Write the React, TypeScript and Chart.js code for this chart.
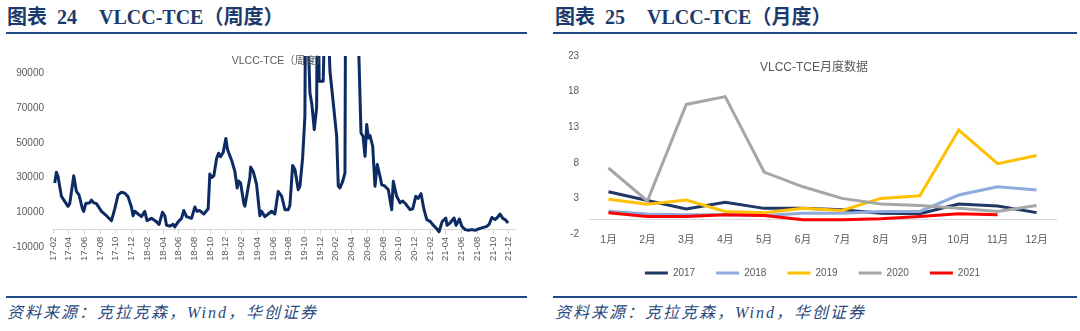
import React, { useEffect, useRef } from 'react';
import { Chart, registerables } from 'chart.js';

Chart.register(...registerables);

// ---------- Weekly VLCC-TCE (left chart) ----------
// position in months since 2017-01 (17-02 = 1)
const weeklyMonthPos = [
  1.22, 1.43, 1.64, 1.85, 2.07, 2.49, 2.91, 3.13, 3.64, 3.98, 4.31, 4.75, 4.91, 5.17, 5.68, 5.89, 6.18, 6.53,
  7.17, 7.8, 8.44, 8.86, 9.28, 9.71, 10.13, 10.55, 10.98, 11.19, 11.41, 11.83, 12.26, 12.68, 12.97, 13.54,
  14.17, 14.5, 14.94, 15.23, 15.45, 15.87, 16.29, 16.5, 16.92, 17.36, 17.65, 17.99, 18.63, 19.05, 19.34,
  19.69, 20.2, 20.75, 20.96, 21.18, 21.47, 21.82, 22.07, 22.32, 22.66, 23.0, 23.22, 23.73, 24.15, 24.44,
  24.62, 24.87, 25.29, 25.42, 26.06, 26.15, 26.48, 26.91, 27.33, 27.54, 27.96, 28.39, 28.82, 29.24, 29.66,
  30.1, 30.52, 30.94, 31.15, 31.5, 31.79, 32.21, 32.43, 32.77, 33.06, 33.28, 33.48, 33.7, 33.95, 34.25,
  34.55, 34.68, 34.88, 35.39, 35.61, 36.03, 36.25, 36.67, 37.1, 37.31, 37.52, 37.87, 38.16, 38.3, 38.7,
  39.1, 39.5, 39.81, 40.2, 40.46, 40.71, 40.93, 41.14, 41.35, 41.69, 41.98, 42.27, 42.62, 42.83, 43.25,
  43.68, 44.11, 44.31, 44.74, 45.17, 45.51, 45.93, 46.44, 46.78, 47.17, 47.46, 47.84, 48.22, 48.57, 48.99,
  49.33, 49.75, 50.13, 50.52, 50.99, 51.15, 51.53, 52.04, 52.3, 52.72, 53.03, 53.45, 53.87, 54.3, 54.72,
  55.14, 55.57, 56.21, 56.5, 56.85, 57.27, 57.56, 57.9, 58.25, 58.54, 58.92,
];
const weeklyTce = [
  26900, 33000, 30700, 25000, 19200, 16300, 13400, 15000, 31000, 22000, 20000, 12000, 10500, 15000, 15500, 17000, 15500, 15000,
  10500, 8000, 5200, 12000, 20000, 21500, 21000, 19000, 13000, 8000, 10600, 9000, 7500, 10500, 5200, 6500,
  4500, 3000, 10000, 8000, 2500, 2000, 3000, 1500, 4500, 6500, 11000, 7500, 6500, 13000, 10500,
  11000, 9000, 12000, 32000, 30000, 31000, 41000, 44000, 42000, 44500, 52500, 46000, 40000, 33500, 24000,
  28000, 27000, 15000, 13500, 30000, 36000, 33500, 26000, 8000, 10600, 7500, 9000, 10600, 9000, 22000,
  19300, 11500, 11500, 14000, 36900, 34600, 23000, 25000, 41300, 65300, 250000, 110000, 78800, 72000, 57600,
  70100, 160000, 85500, 85500, 130000, 120000, 91200, 73000, 53800, 25000, 24000, 27800, 32700, 220000, 250000,
  180000, 140000, 120000, 55700, 53800, 42200, 60500, 52800, 54200, 48000, 25000, 37500, 30700, 25900, 25000,
  23000, 11500, 27800, 19200, 15400, 16500, 14600, 11500, 12000, 19200, 18000, 20700, 11500, 5800, 4800,
  2900, 900, -1200, 4500, 6700, 2500, 3800, 6700, 2500, 6100, 2000, 0, -400, 0, -400,
  400, 1000, 1900, 3000, 7000, 5800, 7000, 9000, 6500, 5800, 3800,
];
const weeklyTickPos = [1, 3, 5, 7, 9, 11, 13, 15, 17, 19, 21, 23, 25, 27, 29, 31, 33, 35, 37, 39, 41, 43, 45, 47, 49, 51, 53, 55, 57, 59];
const weeklyTickLabels = [
  '17-02', '17-04', '17-06', '17-08', '17-10', '17-12',
  '18-02', '18-04', '18-06', '18-08', '18-10', '18-12',
  '19-02', '19-04', '19-06', '19-08', '19-10', '19-12',
  '20-02', '20-04', '20-06', '20-08', '20-10', '20-12',
  '21-02', '21-04', '21-06', '21-08', '21-10', '21-12',
];
const weeklyYTicks = [-10000, 10000, 30000, 50000, 70000, 90000];

// ---------- Monthly VLCC-TCE (right chart) ----------
const months = ['1月', '2月', '3月', '4月', '5月', '6月', '7月', '8月', '9月', '10月', '11月', '12月'];
const years = ['2017', '2018', '2019', '2020', '2021'];
const tce2017 = [3.94, 2.7, 1.53, 2.45, 1.6, 1.6, 1.4, 0.93, 0.85, 2.2, 1.94, 1.0];
const tce2018 = [1.2, 0.8, 0.7, 0.7, 0.6, 0.9, 0.93, 1.16, 1.16, 3.47, 4.63, 4.17];
const tce2019 = [2.87, 2.17, 2.78, 1.16, 1.0, 1.6, 1.3, 3.0, 3.38, 12.6, 7.87, 9.03];
const tce2020 = [7.27, 2.64, 16.2, 17.3, 6.7, 4.63, 3.0, 2.2, 2.0, 1.6, 1.16, 2.0];
const tce2021 = [1.0, 0.46, 0.46, 0.7, 0.6, 0.0, 0.0, 0.14, 0.46, 0.83, 0.7, null];
const yearColors = ['#1F3864', '#8FAADC', '#FFC000', '#A6A6A6', '#FF0000'];

const AXIS_TEXT = '#595959';
const NAVY = '#0D2B63';
const RULE = '#1F4A86';
const SANS = '"Liberation Sans", Arial, "Noto Sans CJK SC", sans-serif';

function WeeklyChart() {
  const ref = useRef<HTMLCanvasElement>(null);
  useEffect(() => {
    if (!ref.current) return;
    const chart = new Chart(ref.current, {
      type: 'line',
      data: {
        datasets: [
          {
            data: weeklyMonthPos.map((x, i) => ({ x, y: weeklyTce[i] })),
            borderColor: NAVY,
            borderWidth: 3,
            pointRadius: 0,
            tension: 0,
            fill: false,
            borderJoinStyle: 'round',
          },
        ],
      },
      options: {
        animation: false,
        responsive: false,
        maintainAspectRatio: false,
        layout: { padding: { left: 0, right: 15, top: 16, bottom: 33 } },
        plugins: { legend: { display: false }, tooltip: { enabled: false } },
        scales: {
          x: {
            type: 'linear',
            position: { y: 0 } as any,
            min: 1,
            max: 59.8,
            afterBuildTicks: (s: any) => {
              s.ticks = weeklyTickPos.map((v) => ({ value: v }));
            },
            ticks: {
              autoSkip: false,
              maxRotation: 90,
              minRotation: 90,
              padding: 3,
              color: AXIS_TEXT,
              font: { family: SANS, size: 9.5 },
              callback: (v: any) => {
                const i = weeklyTickPos.indexOf(Number(v));
                return i >= 0 ? weeklyTickLabels[i] : '';
              },
            },
            grid: { display: true, drawOnChartArea: false, drawTicks: true, tickLength: 4, color: '#D9D9D9' },
            border: { display: true, color: '#D9D9D9', width: 1 },
          },
          y: {
            type: 'linear',
            min: -10000,
            max: 100000,
            afterBuildTicks: (s: any) => {
              s.ticks = weeklyYTicks.map((v) => ({ value: v }));
            },
            afterFit: (s: any) => {
              s.width = 53;
            },
            ticks: {
              padding: 9,
              color: AXIS_TEXT,
              font: { family: SANS, size: 10 },
              callback: (v: any) => String(v),
            },
            grid: { display: false, drawTicks: false },
            border: { display: false },
          },
        },
      },
    });
    return () => chart.destroy();
  }, []);
  return (
    <canvas
      ref={ref}
      width={530}
      height={240}
      style={{ position: 'absolute', left: 0, top: 40, width: 530, height: 240 }}
    />
  );
}

function MonthlyChart() {
  const ref = useRef<HTMLCanvasElement>(null);
  useEffect(() => {
    if (!ref.current) return;
    const series = [tce2017, tce2018, tce2019, tce2020, tce2021];
    const datasets = years
      .map((y, i) => ({
        label: y,
        data: series[i],
        borderColor: yearColors[i],
        backgroundColor: yearColors[i],
        borderWidth: 3,
        pointRadius: 0,
        tension: 0,
        fill: false,
        spanGaps: false,
      }))
      .reverse();
    const chart = new Chart(ref.current, {
      type: 'line',
      data: { labels: months, datasets },
      options: {
        animation: false,
        responsive: false,
        maintainAspectRatio: false,
        layout: { padding: { left: 29, right: 24, top: 14, bottom: 2 } },
        plugins: {
          tooltip: { enabled: false },
          legend: {
            position: 'bottom',
            reverse: true,
            labels: {
              boxWidth: 23,
              boxHeight: 3,
              padding: 21,
              color: AXIS_TEXT,
              font: { family: SANS, size: 10 },
              generateLabels: (c: any) =>
                (Chart.defaults.plugins.legend.labels.generateLabels as any)(c).map((l: any) => ({
                  ...l,
                  lineWidth: 0,
                })),
            },
          },
        },
        scales: {
          x: {
            type: 'category',
            offset: true,
            afterFit: (s: any) => {
              s.height = 13;
            },
            ticks: { padding: 0, color: AXIS_TEXT, font: { family: SANS, size: 10.5 } },
            grid: { display: false, drawTicks: false },
            border: { display: false },
          },
          x2: {
            axis: 'x',
            type: 'category',
            position: { y: 0 } as any,
            offset: true,
            ticks: { display: false },
            grid: { display: false },
            border: { display: true, color: '#D9D9D9', width: 1 },
          } as any,
          y: {
            type: 'linear',
            min: -2,
            max: 23,
            afterFit: (s: any) => {
              s.width = 20;
            },
            ticks: { stepSize: 5, padding: 10, color: AXIS_TEXT, font: { family: SANS, size: 10 } },
            grid: { display: false, drawTicks: false },
            border: { display: false },
          },
        },
      },
    });
    return () => chart.destroy();
  }, []);
  return (
    <canvas
      ref={ref}
      width={540}
      height={250}
      style={{ position: 'absolute', left: 540, top: 40, width: 540, height: 250 }}
    />
  );
}

const headerStyle: React.CSSProperties = {
  position: 'absolute',
  top: 6,
  height: 22,
  lineHeight: '22px',
  fontFamily: '"Liberation Serif", "Times New Roman", "Noto Sans CJK SC", serif',
  fontWeight: 'bold',
  fontSize: 20,
  color: '#1B3A6B',
  whiteSpace: 'nowrap',
};

const sourceStyle: React.CSSProperties = {
  position: 'absolute',
  top: 303,
  height: 20,
  lineHeight: '20px',
  fontFamily: '"Liberation Serif", "Noto Sans CJK SC", serif',
  fontStyle: 'italic',
  fontSize: 16,
  letterSpacing: 2,
  color: '#2B4A80',
  whiteSpace: 'nowrap',
};

function Header({ left, num, text }: { left: number; num: string; text: string }) {
  return (
    <div style={{ ...headerStyle, left }}>
      <span>图表</span>
      <span style={{ marginLeft: 10 }}>{num}</span>
      <span style={{ marginLeft: 22 }}>{text}</span>
    </div>
  );
}

export default function App() {
  return (
    <div style={{ position: 'absolute', left: 0, top: 0, width: 1080, height: 331, background: '#fff', overflow: 'hidden' }}>
      <Header left={7} num="24" text="VLCC-TCE（周度）" />
      <Header left={555} num="25" text="VLCC-TCE（月度）" />
      <div style={{ position: 'absolute', left: 6, top: 32, width: 521, height: 2, background: RULE }} />
      <div style={{ position: 'absolute', left: 553, top: 32, width: 524, height: 2, background: RULE }} />

      <WeeklyChart />
      <MonthlyChart />

      <div
        style={{
          position: 'absolute',
          left: 229,
          top: 52,
          width: 100,
          textAlign: 'center',
          fontFamily: SANS,
          fontSize: 10.5,
          color: AXIS_TEXT,
          whiteSpace: 'nowrap',
        }}
      >
        VLCC-TCE（周度）
      </div>
      <div
        style={{
          position: 'absolute',
          left: 754,
          top: 57,
          width: 120,
          textAlign: 'center',
          fontFamily: SANS,
          fontSize: 12,
          color: AXIS_TEXT,
          whiteSpace: 'nowrap',
        }}
      >
        VLCC-TCE月度数据
      </div>

      <div style={{ position: 'absolute', left: 6, top: 296, width: 521, height: 2, background: RULE }} />
      <div style={{ position: 'absolute', left: 553, top: 296, width: 524, height: 2, background: RULE }} />
      <div style={{ ...sourceStyle, left: 7 }}>资料来源：克拉克森，Wind，华创证券</div>
      <div style={{ ...sourceStyle, left: 555 }}>资料来源：克拉克森，Wind，华创证券</div>
    </div>
  );
}
